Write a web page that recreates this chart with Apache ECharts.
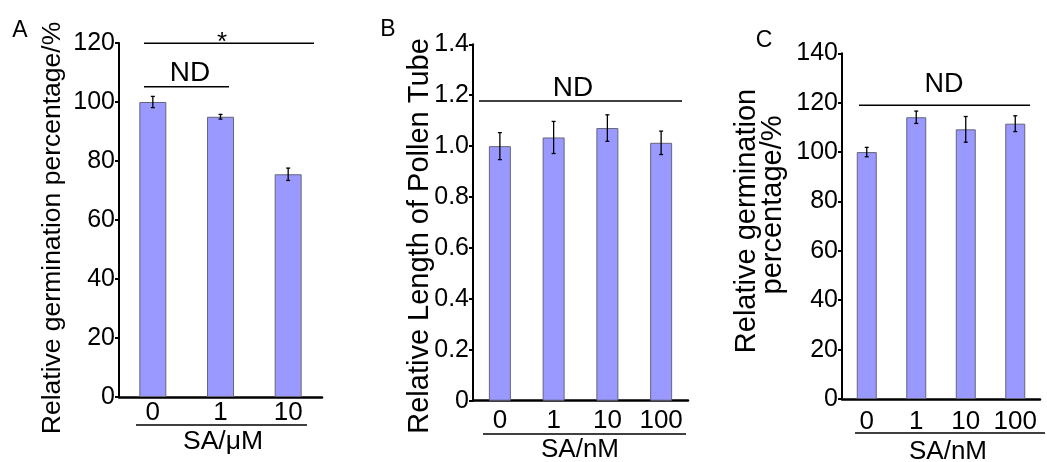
<!DOCTYPE html>
<html>
<head>
<meta charset="utf-8">
<script src="https://cdn.jsdelivr.net/npm/echarts@6/dist/echarts.min.js"></script>
<style>
  html, body { margin: 0; padding: 0; background: #fff; }
  #main { width: 1047px; height: 462px; }
</style>
</head>
<body>
<div id="main"></div>
<script>
// panel A: SA in µM
const catsA = ['0', '1', '10']
const meanA = [100, 95.0, 75.5]
const errA = [1.9, 0.8, 2.1]
// panel B: SA in nM, pollen tube length
const catsB = ['0', '1', '10', '100']
const meanB = [1.0, 1.034, 1.071, 1.013]
const errB = [0.053, 0.063, 0.052, 0.046]
// panel C: SA in nM, germination
const catsC = ['0', '1', '10', '100']
const meanC = [100, 114.1, 109.2, 111.5]
const errC = [1.9, 2.5, 5.2, 3.2]

const FONT = '"Liberation Sans", Arial, sans-serif'
const chart = echarts.init(document.getElementById('main'))

function yAxis (idx, max, step, fmt) {
  return {
    type: 'value', gridIndex: idx, min: 0, max: max, interval: step,
    splitLine: { show: false },
    axisLine: { show: true, lineStyle: { color: '#000', width: 2 } },
    axisTick: { show: true, length: 4, lineStyle: { color: '#000', width: 2 } },
    axisLabel: { color: '#000', fontSize: 25, fontFamily: FONT, margin: 4, formatter: fmt }
  }
}
function xAxis (idx, cats, margin) {
  return {
    type: 'category', gridIndex: idx, data: cats,
    axisLine: { lineStyle: { color: '#000', width: 2.5 } },
    axisTick: { show: false },
    axisLabel: { color: '#000', fontSize: 26, fontFamily: FONT, margin: margin, interval: 0 }
  }
}
function bars (idx, vals, w) {
  return {
    type: 'bar', xAxisIndex: idx, yAxisIndex: idx, data: vals, barWidth: w,
    itemStyle: { color: '#9999ff', borderColor: '#66667a', borderWidth: 1 },
    silent: true
  }
}
function errors (idx, vals, errs) {
  return {
    type: 'custom', xAxisIndex: idx, yAxisIndex: idx, z: 5,
    data: vals.map((v, i) => [i, v, errs[i]]),
    renderItem: function (params, api) {
      const i = api.value(0)
      const hi = api.coord([i, api.value(1) + api.value(2)])
      const lo = api.coord([i, api.value(1) - api.value(2)])
      const c = 2
      const st = { stroke: '#000', lineWidth: 1.3 }
      return {
        type: 'group',
        children: [
          { type: 'line', shape: { x1: hi[0], y1: hi[1], x2: lo[0], y2: lo[1] }, style: st },
          { type: 'line', shape: { x1: hi[0] - c, y1: hi[1], x2: hi[0] + c, y2: hi[1] }, style: st },
          { type: 'line', shape: { x1: lo[0] - c, y1: lo[1], x2: lo[0] + c, y2: lo[1] }, style: st }
        ]
      }
    }
  }
}
function txt (x, y, s, size, rot) {
  return {
    type: 'text', x: x, y: y, rotation: rot || 0,
    style: { text: s, fill: '#000', font: size + 'px ' + FONT, align: 'center', verticalAlign: 'middle' }
  }
}
function hline (x1, x2, y) {
  return { type: 'line', shape: { x1: x1, y1: y, x2: x2, y2: y }, style: { stroke: '#000', lineWidth: 1.6 } }
}
const R = Math.PI / 2
const intFmt = v => String(v)
const decFmt = v => (v === 0 ? '0' : v.toFixed(1))

chart.setOption({
  animation: false,
  grid: [
    { left: 119, top: 43, width: 203, height: 354 },
    { left: 473, top: 44.3, width: 215, height: 356.4 },
    { left: 842, top: 53.3, width: 198, height: 345.7 }
  ],
  xAxis: [xAxis(0, catsA, 3), xAxis(1, catsB, 7), xAxis(2, catsC, 10)],
  yAxis: [yAxis(0, 120, 20, intFmt), yAxis(1, 1.4, 0.2, decFmt), yAxis(2, 140, 20, intFmt)],
  series: [
    bars(0, meanA, 27), errors(0, meanA, errA),
    bars(1, meanB, 22), errors(1, meanB, errB),
    bars(2, meanC, 20), errors(2, meanC, errC)
  ],
  graphic: [
    // panel letters
    txt(20, 31, 'A', 23), txt(388, 30, 'B', 23), txt(764, 41, 'C', 23),
    // y axis titles
    txt(53, 228, 'Relative germination percentage/%', 26.5, R),
    txt(420, 236, 'Relative Length of Pollen Tube', 29, R),
    txt(747, 221, 'Relative germination', 29, R),
    txt(773, 205, 'percentage/%', 29, R),
    // significance marks
    hline(144, 314, 43.3), txt(222, 43, '*', 26),
    hline(144, 229, 86.7), txt(190, 73, 'ND', 28),
    hline(479, 682, 101), txt(573, 88, 'ND', 28),
    hline(859, 1030, 105.3), txt(944, 85, 'ND', 27),
    // x axis titles with rule
    hline(136, 307, 425), txt(223, 442, 'SA/μM', 26.5),
    hline(483, 686, 434), txt(580, 450, 'SA/nM', 26),
    hline(855, 1045, 433), txt(948, 452, 'SA/nM', 26)
  ]
})
</script>
</body>
</html>
